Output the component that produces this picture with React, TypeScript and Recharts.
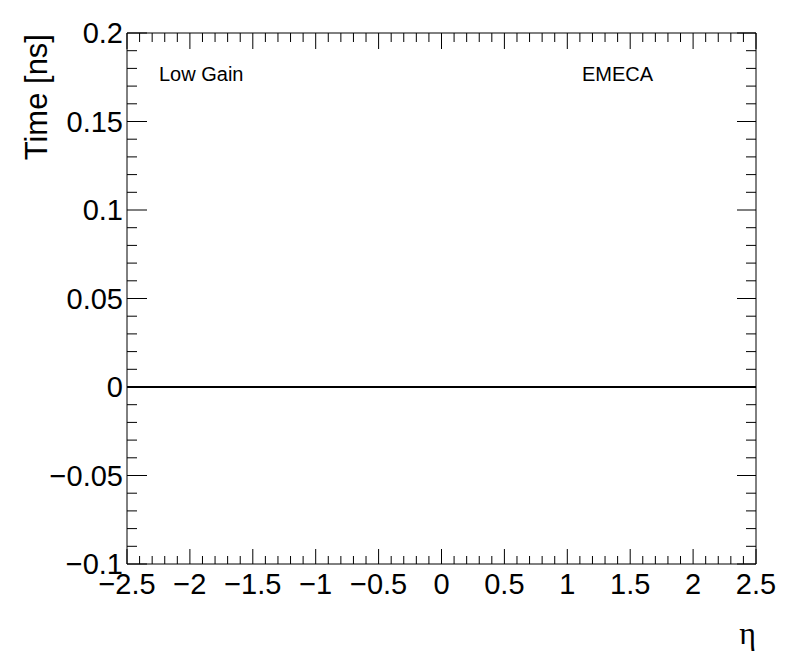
import React from 'react';
import { LineChart, Line, XAxis, YAxis } from 'recharts';

// ---- data ----
const etaPoints = [-2.5, 2.5];
const timePoints = [0, 0];

const xTicks = [
  -2.5, -2.4, -2.3, -2.2, -2.1, -2.0, -1.9, -1.8, -1.7, -1.6,
  -1.5, -1.4, -1.3, -1.2, -1.1, -1.0, -0.9, -0.8, -0.7, -0.6,
  -0.5, -0.4, -0.3, -0.2, -0.1, 0, 0.1, 0.2, 0.3, 0.4,
  0.5, 0.6, 0.7, 0.8, 0.9, 1.0, 1.1, 1.2, 1.3, 1.4,
  1.5, 1.6, 1.7, 1.8, 1.9, 2.0, 2.1, 2.2, 2.3, 2.4, 2.5,
];
const xMajorTicks = [-2.5, -2, -1.5, -1, -0.5, 0, 0.5, 1, 1.5, 2, 2.5];
const xMajorLabels = ['\u22122.5', '\u22122', '\u22121.5', '\u22121', '\u22120.5', '0', '0.5', '1', '1.5', '2', '2.5'];

const yTicks = [
  -0.1, -0.09, -0.08, -0.07, -0.06, -0.05, -0.04, -0.03, -0.02, -0.01,
  0, 0.01, 0.02, 0.03, 0.04, 0.05, 0.06, 0.07, 0.08, 0.09,
  0.1, 0.11, 0.12, 0.13, 0.14, 0.15, 0.16, 0.17, 0.18, 0.19, 0.2,
];
const yMajorTicks = [-0.1, -0.05, 0, 0.05, 0.1, 0.15, 0.2];
const yMajorLabels = ['\u22120.1', '\u22120.05', '0', '0.05', '0.1', '0.15', '0.2'];

const xAxisTitle = '\u03b7';
const yAxisTitle = 'Time [ns]';
const gainText = 'Low Gain';
const regionText = 'EMECA';

const data = etaPoints.map((eta, i) => ({ eta, time: timePoints[i] }));

// ---- styling ----
const FONT = '"Liberation Sans", Arial, Helvetica, sans-serif';
const SERIF = '"Liberation Serif", "DejaVu Serif", serif';
const TICK_FS = 29;

const majorIndex = (v: number, majors: number[]) =>
  majors.findIndex((m) => Math.abs(m - v) < 1e-6);

const BottomTick = (props: any) => {
  const { x, y, payload } = props;
  const mi = majorIndex(payload.value, xMajorTicks);
  const len = mi >= 0 ? 15 : 8;
  return (
    <g>
      <line x1={x} x2={x} y1={y} y2={y - len} stroke="#000" strokeWidth={1} />
      {mi >= 0 && (
        <text x={x} y={y + 30} textAnchor="middle" fontSize={TICK_FS} fontFamily={FONT} fill="#000">
          {xMajorLabels[mi]}
        </text>
      )}
    </g>
  );
};

const TopTick = (props: any) => {
  const { x, y, payload } = props;
  const mi = majorIndex(payload.value, xMajorTicks);
  const len = mi >= 0 ? 16 : 9;
  return <line x1={x} x2={x} y1={y} y2={y + len} stroke="#000" strokeWidth={1} />;
};

const LeftTick = (props: any) => {
  const { x, y, payload } = props;
  const mi = majorIndex(payload.value, yMajorTicks);
  const len = mi >= 0 ? 20 : 10;
  return (
    <g>
      <line x1={x} x2={x + len} y1={y} y2={y} stroke="#000" strokeWidth={1} />
      {mi >= 0 && (
        <text x={x - 4} y={y + 10} textAnchor="end" fontSize={TICK_FS} fontFamily={FONT} fill="#000">
          {yMajorLabels[mi]}
        </text>
      )}
    </g>
  );
};

const RightTick = (props: any) => {
  const { x, y, payload } = props;
  const mi = majorIndex(payload.value, yMajorTicks);
  const len = mi >= 0 ? 19 : 10;
  return <line x1={x} x2={x - len} y1={y} y2={y} stroke="#000" strokeWidth={1} />;
};

const YTitle = () => (
  <text
    x={47}
    y={34}
    transform="rotate(-90, 47, 34)"
    textAnchor="end"
    fontSize={31}
    fontFamily={FONT}
    fill="#000"
  >
    {yAxisTitle}
  </text>
);

const XTitle = () => (
  <text x={756} y={644} textAnchor="end" fontSize={32} fontFamily={SERIF} fill="#000">
    {xAxisTitle}
  </text>
);

const PadTexts = () => (
  <g>
    <text x={159} y={81} fontSize={20} fontFamily={FONT} fill="#000">
      {gainText}
    </text>
    <text x={582} y={81} fontSize={20} fontFamily={FONT} fill="#000">
      {regionText}
    </text>
  </g>
);

const axisLine = { stroke: '#000', strokeWidth: 1 };

export default function App() {
  return (
    <div style={{ position: 'absolute', left: 0, top: 0, width: 796, height: 672, background: '#fff' }}>
      <LineChart
        width={796}
        height={672}
        data={data}
        margin={{ top: 32, right: 39, left: 0, bottom: 0 }}
      >
        <XAxis
          xAxisId="bottom"
          dataKey="eta"
          type="number"
          orientation="bottom"
          domain={[-2.5, 2.5]}
          allowDataOverflow
          ticks={xTicks}
          interval={0}
          height={108}
          tickSize={0}
          tickMargin={0}
          tickLine={false}
          axisLine={axisLine}
          tick={BottomTick}
          label={XTitle}
        />
        <XAxis
          xAxisId="top"
          dataKey="eta"
          type="number"
          orientation="top"
          domain={[-2.5, 2.5]}
          allowDataOverflow
          ticks={xTicks}
          interval={0}
          height={1}
          tickSize={0}
          tickMargin={0}
          tickLine={false}
          axisLine={axisLine}
          tick={TopTick}
          label={PadTexts}
        />
        <YAxis
          yAxisId="left"
          type="number"
          orientation="left"
          domain={[-0.1, 0.2]}
          allowDataOverflow
          ticks={yTicks}
          interval={0}
          width={127}
          tickSize={0}
          tickMargin={0}
          tickLine={false}
          axisLine={axisLine}
          tick={LeftTick}
          label={YTitle}
        />
        <YAxis
          yAxisId="right"
          type="number"
          orientation="right"
          domain={[-0.1, 0.2]}
          allowDataOverflow
          ticks={yTicks}
          interval={0}
          width={1}
          tickSize={0}
          tickMargin={0}
          tickLine={false}
          axisLine={axisLine}
          tick={RightTick}
        />
        <Line
          xAxisId="bottom"
          yAxisId="left"
          dataKey="time"
          type="linear"
          stroke="#000"
          strokeWidth={2}
          dot={false}
          activeDot={false}
          isAnimationActive={false}
        />
      </LineChart>
    </div>
  );
}
